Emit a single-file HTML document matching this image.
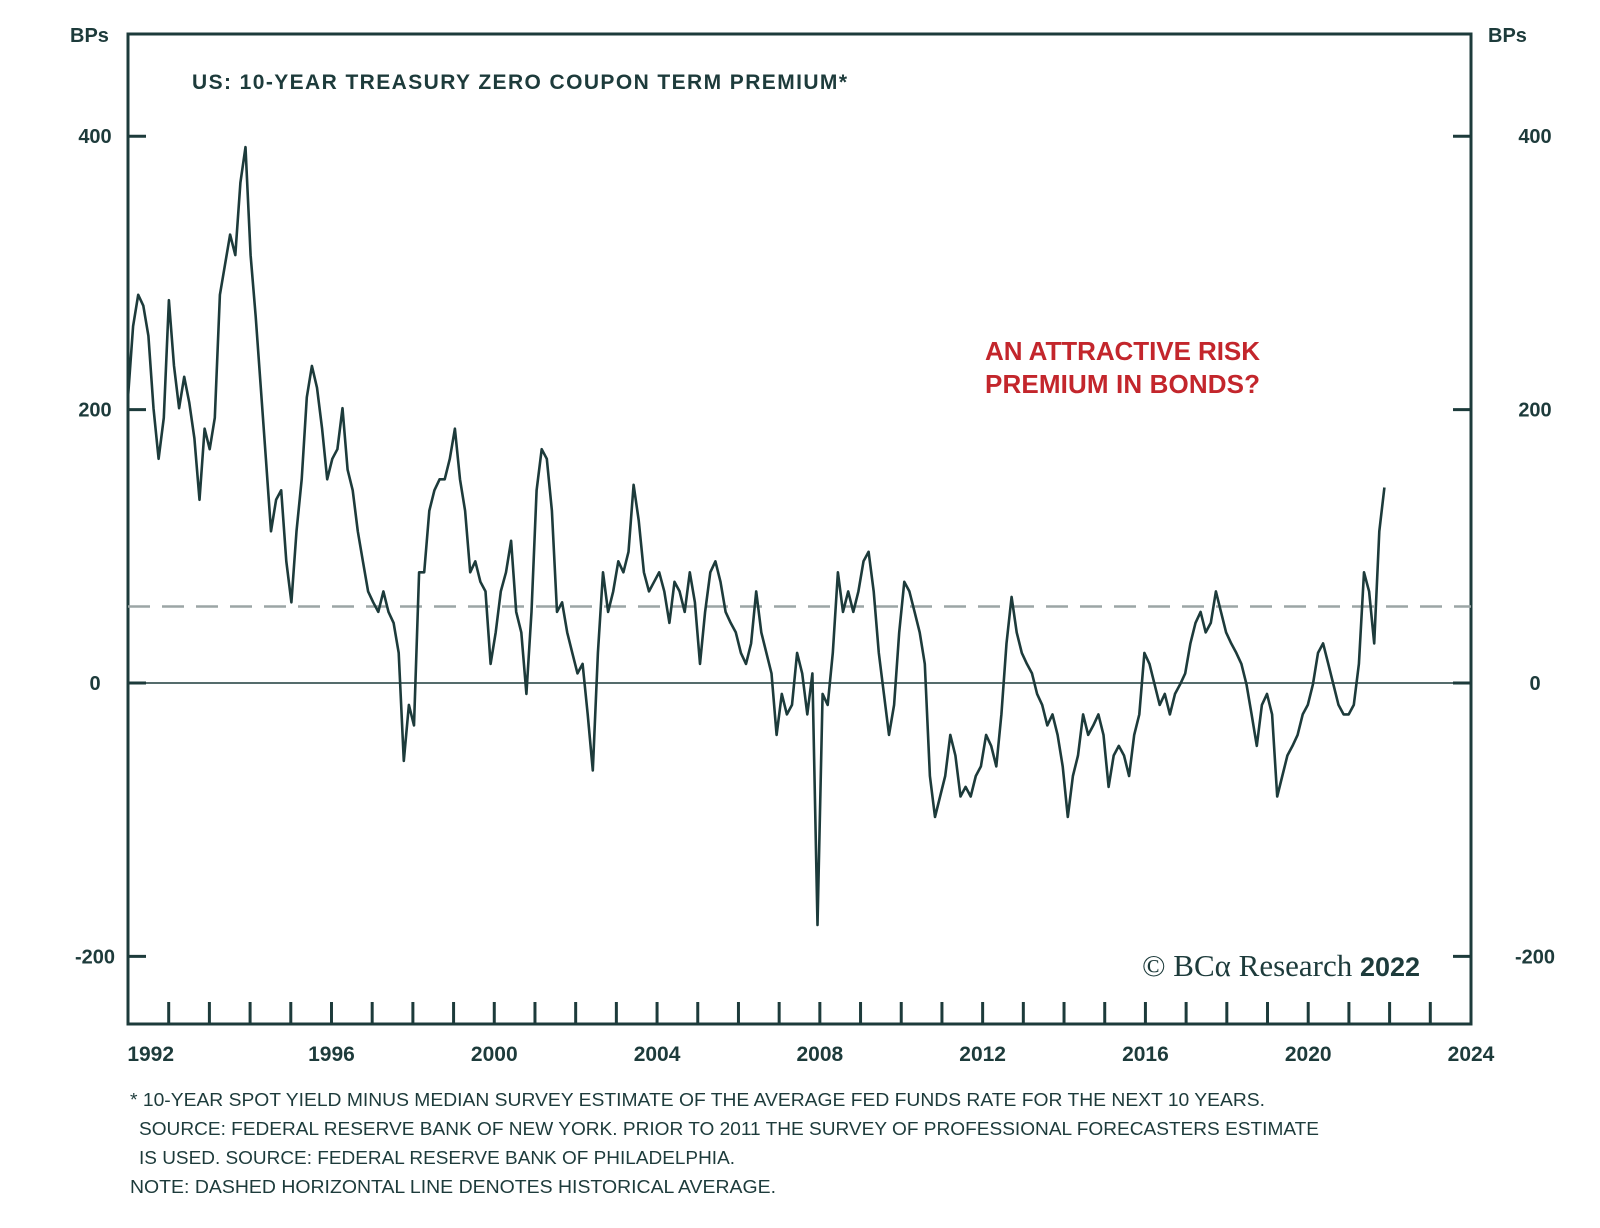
<!DOCTYPE html>
<html><head><meta charset="utf-8"><style>
body{margin:0;background:#fff;}
svg{display:block;font-family:"Liberation Sans",sans-serif;}
</style></head><body>
<svg id="chart" width="1600" height="1228" viewBox="0 0 1600 1228">
<g id="g"></g>
</svg>
<script>
const startYear = 1991.0;
const stepYear = 0.1255;
const premiumValues = [209,261,284,276,254,201,164,194,280,232,201,224,205,179,134,186,171,194,284,306,328,313,366,392,313,268,216,164,111,134,141,89,59,111,149,209,232,216,186,149,164,171,201,156,141,111,89,67,59,52,67,52,44,22,-57,-16,-31,81,81,126,141,149,149,164,186,149,126,81,89,74,67,14,37,67,81,104,52,37,-8,52,141,171,164,126,52,59,37,22,7,14,-23,-64,22,81,52,67,89,81,96,145,119,81,67,74,81,67,44,74,67,52,81,59,14,52,81,89,74,52,44,37,22,14,29,67,37,22,7,-38,-8,-23,-16,22,7,-23,7,-177,-8,-16,22,81,52,67,52,67,89,96,67,22,-8,-38,-16,37,74,67,52,37,14,-68,-98,-83,-68,-38,-53,-83,-76,-83,-68,-61,-38,-46,-61,-23,29,63,37,22,14,7,-8,-16,-31,-23,-38,-61,-98,-68,-53,-23,-38,-31,-23,-38,-76,-53,-46,-53,-68,-38,-23,22,14,-1,-16,-8,-23,-8,-1,7,29,44,52,37,44,67,52,37,29,22,14,-1,-23,-46,-16,-8,-23,-83,-68,-53,-46,-38,-23,-16,-1,22,29,14,-1,-16,-23,-23,-16,14,81,67,29,111,143];
const averageValue = [56];
const yTicks = [400,200,0,-200];
const xLabelYears = [1992,1996,2000,2004,2008,2012,2016,2020,2024];

const L=128,R=1471,T=34,B=1024;
const X0=1991,X1=2024;
function xs(y){return L+(y-X0)/(X1-X0)*(R-L);}
function ys(v){return 683 - v*1.367;}
const C='#1d3b3b';
const g=document.getElementById('g');
const NS='http://www.w3.org/2000/svg';
function el(t,a,txt){const e=document.createElementNS(NS,t);for(const k in a)e.setAttribute(k,a[k]);if(txt!=null)e.textContent=txt;g.appendChild(e);return e;}

let f=el('rect',{x:L,y:T,width:R-L,height:B-T,fill:'none',stroke:C,'stroke-width':3});


let z=el('line',{x1:L,x2:R,y1:ys(0),y2:ys(0),stroke:C,'stroke-width':1.5});


let d=el('line',{x1:L,x2:R,y1:ys(averageValue[0]),y2:ys(averageValue[0]),stroke:'#9ca5a5','stroke-width':2.5,'stroke-dasharray':'22,12'});


yTicks.forEach(v=>{
 let a=el('line',{x1:L,x2:L+18,y1:ys(v),y2:ys(v),stroke:C,'stroke-width':3});
 
 
 let b=el('line',{x1:R-18,x2:R,y1:ys(v),y2:ys(v),stroke:C,'stroke-width':3});
 
 
 let t1=el('text',{x:95,y:ys(v)+7,'text-anchor':'middle','font-size':20,'font-weight':'bold',fill:C},String(v));
 
 
 let t2=el('text',{x:1535,y:ys(v)+7,'text-anchor':'middle','font-size':20,'font-weight':'bold',fill:C},String(v));
 
 
});
for(let yr=X0+1;yr<X1;yr++){
 let t=el('line',{x1:xs(yr),x2:xs(yr),y1:B,y2:B-22,stroke:C,'stroke-width':3});
 
 
}
xLabelYears.forEach((yr,i)=>{
 let x=i===0?xs(yr)-18:xs(yr);
 let t=el('text',{x:x,y:1061,'text-anchor':'middle','font-size':21,'font-weight':'bold',fill:C},String(yr));
 
 
});
let pts=premiumValues.map((v,i)=>xs(startYear+i*stepYear).toFixed(1)+','+ys(v).toFixed(1)).join(' ');
let p=el('polyline',{points:pts,fill:'none',stroke:C,'stroke-width':2.6,'stroke-linejoin':'round'});



function txt(name,a,s){let t=el('text',a,s);return t;}
txt('y-axis-unit-left',{x:70,y:42,'font-size':20,'font-weight':'bold',fill:C},'BPs');
txt('y-axis-unit-right',{x:1488,y:42,'font-size':20,'font-weight':'bold',fill:C},'BPs');
txt('chart-title',{x:192,y:89,'font-size':21,'font-weight':'bold',fill:C,textLength:655},'US: 10-YEAR TREASURY ZERO COUPON TERM PREMIUM*');
txt('annotation-line-1',{x:985,y:360,'font-size':26,'font-weight':'bold',fill:'#c3262c',textLength:275},'AN ATTRACTIVE RISK');
txt('annotation-line-2',{x:985,y:393,'font-size':26,'font-weight':'bold',fill:'#c3262c',textLength:275},'PREMIUM IN BONDS?');
let c=txt('copyright',{x:1142,y:976,'font-size':31,fill:C,'font-family':'Liberation Serif, serif'},'© BCα Research ');
let ts=document.createElementNS(NS,'tspan');ts.setAttribute('font-family','Liberation Sans, sans-serif');ts.setAttribute('font-weight','bold');ts.setAttribute('font-size','27');ts.textContent='2022';c.appendChild(ts);
const foot=[["* 10-YEAR SPOT YIELD MINUS MEDIAN SURVEY ESTIMATE OF THE AVERAGE FED FUNDS RATE FOR THE NEXT 10 YEARS.",130,1106,1135],
["SOURCE: FEDERAL RESERVE BANK OF NEW YORK. PRIOR TO 2011 THE SURVEY OF PROFESSIONAL FORECASTERS ESTIMATE",139,1135,1180],
["IS USED. SOURCE: FEDERAL RESERVE BANK OF PHILADELPHIA.",139,1164,596],
["NOTE: DASHED HORIZONTAL LINE DENOTES HISTORICAL AVERAGE.",130,1193,646]];
foot.forEach(f=>txt('footnote',{x:f[1],y:f[2],'font-size':18,fill:C,textLength:f[3],lengthAdjust:'spacingAndGlyphs'},f[0]));
</script>
</body></html>
